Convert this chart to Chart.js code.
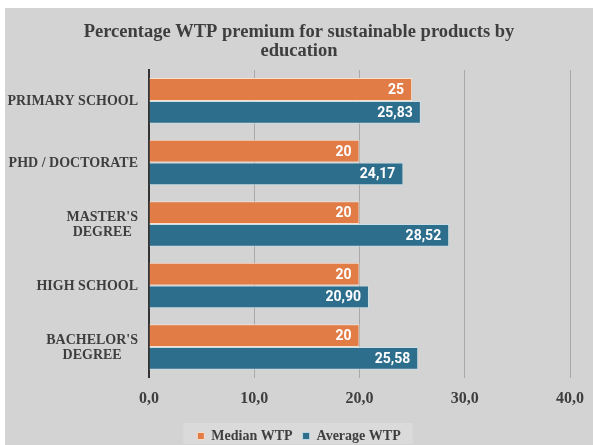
<!DOCTYPE html>
<html>
<head>
<meta charset="utf-8">
<script src="https://cdn.jsdelivr.net/npm/chart.js@4"></script>
<style>
  html, body { margin:0; padding:0; background:#fff; }
  #wrap { position:absolute; left:5px; top:8px; width:588px; height:437px; background:#d3d3d3; }
  canvas { display:block; }
</style>
</head>
<body>
<div id="wrap"><canvas id="c" width="588" height="437"></canvas></div>
<script>
// WTP premium by education – median vs average
const categories = ["PRIMARY SCHOOL", "PHD / DOCTORATE", ["MASTER'S", "DEGREE"], "HIGH SCHOOL", ["BACHELOR'S", "DEGREE"]];
const medianWtp = [25, 20, 20, 20, 20];
const averageWtp = [25.83, 24.17, 28.52, 20.90, 25.58];
const seriesNames = ["Median WTP", "Average WTP"];
const xTicks = [0, 10, 20, 30, 40];

const ORANGE = "#e27c47", BLUE = "#2e6e8d", INK = "#3e3e3e";
const SERIF = "'Liberation Serif', 'Times New Roman', serif";

const fmt = (v, d) => v.toFixed(d).replace(".", ",");

// white value labels inside the bar ends
const barLabels = {
  id: "barLabels",
  afterDatasetsDraw(c) {
    const { ctx } = c;
    ctx.save();
    ctx.fillStyle = "#fff";
    ctx.font = "bold 14px Roboto, 'Liberation Sans', sans-serif";
    ctx.textAlign = "right";
    ctx.textBaseline = "middle";
    c.data.datasets.forEach((ds, i) => {
      c.getDatasetMeta(i).data.forEach((el, j) => {
        ctx.fillText(fmt(ds.data[j], ds.decimals), el.x - 8, el.y + 1);
      });
    });
    ctx.restore();
  },
};

// category labels: block sits right of the axis gap, its lines centred on each other
const catLabels = {
  id: "catLabels",
  afterDraw(c) {
    const y = c.scales.y, ctx = c.ctx;
    const right = y.right - 11, lh = 15;
    ctx.save();
    ctx.fillStyle = INK;
    ctx.font = `bold 14px ${SERIF}`;
    ctx.textAlign = "center";
    ctx.textBaseline = "middle";
    c.data.labels.forEach((lab, i) => {
      const lines = [].concat(lab);
      const w = Math.max(...lines.map((s) => ctx.measureText(s).width));
      const cy = y.getPixelForTick(i) + 1 - (lines.length - 1) * lh / 2;
      lines.forEach((s, k) => ctx.fillText(s, right - w / 2, cy + k * lh));
    });
    ctx.restore();
  },
};

// lighter panel behind the legend
const legendBox = {
  id: "legendBox",
  beforeDraw(c) {
    const l = c.legend;
    if (!l || !l.legendItems.length) return;
    const hit = l.legendHitBoxes;
    const x0 = hit[0].left - 14, x1 = hit[hit.length-1].left + hit[hit.length-1].width + 12;
    const ctx = c.ctx;
    ctx.save();
    ctx.fillStyle = "#dadada";
    ctx.fillRect(x0, hit[0].top - 6, x1 - x0, c.height - hit[0].top + 5);
    ctx.restore();
  },
};

new Chart(document.getElementById("c"), {
  type: "bar",
  data: {
    labels: categories,
    datasets: [
      { label: seriesNames[0], data: medianWtp, decimals: 0, backgroundColor: ORANGE,
        borderColor: "rgba(250,225,205,.9)", borderWidth: 1 },
      { label: seriesNames[1], data: averageWtp, decimals: 2, backgroundColor: BLUE,
        borderColor: "rgba(200,225,235,.8)", borderWidth: 1 },
    ],
  },
  options: {
    indexAxis: "y",
    responsive: false,
    animation: false,
    categoryPercentage: 0.74,
    barPercentage: 1,
    layout: { padding: { left: 0, right: 0, top: 7, bottom: -8 } },
    scales: {
      x: {
        min: 0, max: 40,
        afterBuildTicks: (s) => { s.ticks = xTicks.map((v) => ({ value: v })); },
        afterFit: (s) => { s.paddingRight = 23; },
        grid: { color: "#a9a9a9", lineWidth: 1, drawTicks: false },
        border: { display: false },
        ticks: { color: INK, padding: 11, font: { family: SERIF, size: 16, weight: "bold" },
                 callback: (v) => fmt(v, 1) },
      },
      y: {
        afterFit: (s) => { s.width = 144; },
        grid: { display: false, drawTicks: false },
        border: { color: "#333", width: 2 },
        ticks: { display: false },
      },
    },
    plugins: {
      title: {
        display: true,
        text: ["Percentage WTP premium for sustainable products by", "education"],
        color: INK,
        font: { family: SERIF, size: 18.5, weight: "bold", lineHeight: 1.03 },
        padding: { top: 8, bottom: 9 },
      },
      legend: {
        position: "bottom",
        labels: { color: INK, boxWidth: 7, boxHeight: 7, padding: 10,
                  font: { family: SERIF, size: 14, weight: "bold" } },
      },
      tooltip: { enabled: false },
    },
  },
  plugins: [barLabels, catLabels, legendBox],
});
</script>
</body>
</html>
